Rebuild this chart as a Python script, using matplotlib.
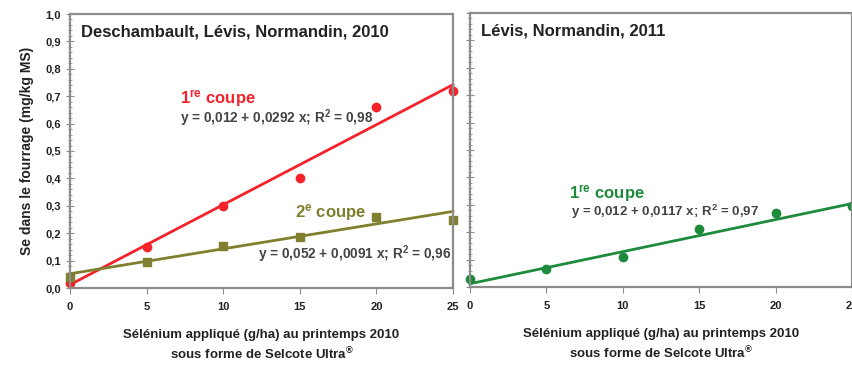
import matplotlib
matplotlib.use("Agg")
import matplotlib.pyplot as plt
from matplotlib.ticker import MultipleLocator, FuncFormatter

plt.rcParams['font.family'] = ['Liberation Sans', 'DejaVu Sans']
plt.rcParams['mathtext.fontset'] = 'custom'
plt.rcParams['mathtext.rm'] = 'Liberation Sans'
plt.rcParams['mathtext.bf'] = 'Liberation Sans:bold'
plt.rcParams['mathtext.default'] = 'bf'

# Data
doses = [0, 5, 10, 15, 20, 25]
coupe1_2010 = [0.02, 0.15, 0.30, 0.40, 0.66, 0.72]
coupe2_2010 = [0.04, 0.095, 0.155, 0.185, 0.26, 0.25]
coupe1_2011 = [0.03, 0.065, 0.11, 0.21, 0.27, 0.295]

# regression (intercept, slope)
fit1_2010 = (0.012, 0.0292)
fit2_2010 = (0.052, 0.0091)
fit1_2011 = (0.012, 0.0117)

RED = '#f5222a'
OLIVE = '#7f7f2e'
GREEN = '#1d8a3c'
SPINE = '#8c8c8c'
TXT = '#222222'
EQ = '#444444'

xlabel = "Sélénium appliqué (g/ha) au printemps 2010\nsous forme de Selcote Ultra$^{®}$"


def fit_line(fit):
    a, b = fit
    return [0, 25], [a, a + b * 25]


def style_axes(ax, show_ylabels):
    ax.set_xlim(0, 25)
    ax.set_ylim(0, 1.0)
    for s in ax.spines.values():
        s.set_color(SPINE)
        s.set_linewidth(1.6)
    ax.xaxis.set_major_locator(MultipleLocator(5))
    ax.yaxis.set_major_locator(MultipleLocator(0.1))
    ax.yaxis.set_minor_locator(MultipleLocator(0.02))
    ax.tick_params(axis='x', which='major', direction='out', length=4,
                   color=SPINE, labelsize=8, labelcolor=TXT, pad=6)
    ax.tick_params(axis='y', which='major', direction='inout', length=6,
                   color=SPINE, labelsize=8, labelcolor=TXT)
    ax.tick_params(axis='y', which='minor', direction='inout', length=3,
                   color=SPINE)
    ax.yaxis.set_major_formatter(FuncFormatter(lambda v, p: f"{v:.1f}".replace('.', ',')))
    if not show_ylabels:
        ax.tick_params(axis='y', labelleft=False)
    for lbl in ax.get_xticklabels() + ax.get_yticklabels():
        lbl.set_fontweight('bold')
    ax.set_xlabel(xlabel, fontsize=9.5, fontweight='bold', color=TXT, labelpad=12,
                  linespacing=1.4)


fig = plt.figure(figsize=(8.53, 3.67), dpi=100)
ax1 = fig.add_axes([70 / 853, 79 / 367, 383 / 853, 274 / 367])
ax2 = fig.add_axes([470 / 853, 80 / 367, 382 / 853, 274 / 367])

# left panel
x, y = fit_line(fit1_2010)
ax1.plot(x, y, color=RED, lw=2, clip_on=False)
ax1.plot(doses, coupe1_2010, 'o', color=RED, ms=6, clip_on=False)
x, y = fit_line(fit2_2010)
ax1.plot(x, y, color=OLIVE, lw=2, clip_on=False)
ax1.plot(doses, coupe2_2010, 's', color=OLIVE, ms=5.5, clip_on=False)

ax1.text(0.03, 0.935, "Deschambault, Lévis, Normandin, 2010", transform=ax1.transAxes,
         fontsize=12, fontweight='bold', color=TXT, va='center')
ax1.text(7.15, 0.69, "1$^{re}$ coupe", color=RED, fontsize=12, fontweight='bold', va='center')
ax1.text(7.2, 0.62, "y = 0,012 + 0,0292 x; R$^{2}$ = 0,98", color=EQ, fontsize=9.8,
         fontweight='bold', va='center')
ax1.text(14.7, 0.275, "2$^{e}$ coupe", color=OLIVE, fontsize=12, fontweight='bold', va='center')
ax1.text(12.3, 0.125, "y = 0,052 + 0,0091 x; R$^{2}$ = 0,96", color=EQ, fontsize=9.8,
         fontweight='bold', va='center')
style_axes(ax1, True)
ax1.set_ylabel("Se dans le fourrage (mg/kg MS)", fontsize=10, fontweight='bold',
               color=TXT, labelpad=8)

# right panel
x, y = fit_line(fit1_2011)
ax2.plot(x, y, color=GREEN, lw=2, clip_on=False)
ax2.plot(doses, coupe1_2011, 'o', color=GREEN, ms=6, clip_on=False)
ax2.text(0.03, 0.935, "Lévis, Normandin, 2011", transform=ax2.transAxes,
         fontsize=12, fontweight='bold', color=TXT, va='center')
ax2.text(6.5, 0.34, "1$^{re}$ coupe", color=GREEN, fontsize=12, fontweight='bold', va='center')
ax2.text(6.6, 0.275, "y = 0,012 + 0,0117 x; R$^{2}$ = 0,97", color=EQ, fontsize=9.5,
         fontweight='bold', va='center')
style_axes(ax2, False)

fig.savefig("out.png", dpi=100)
